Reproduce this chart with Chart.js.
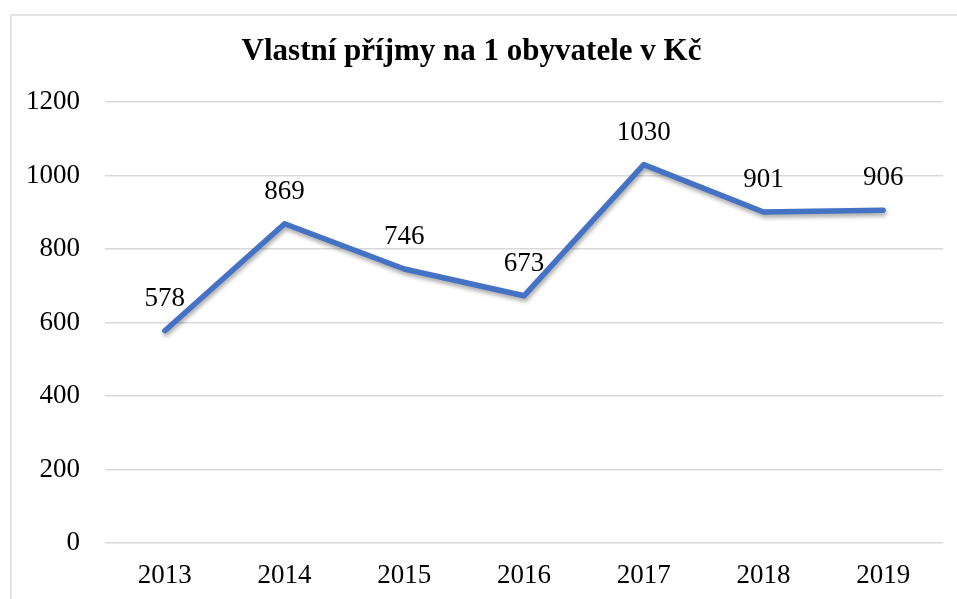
<!DOCTYPE html>
<html>
<head>
<meta charset="utf-8">
<script src="https://cdn.jsdelivr.net/npm/chart.js@4"></script>
<style>
html,body{margin:0;padding:0;background:#fff;overflow:hidden;}
#wrap{position:relative;width:957px;height:599px;}
#frame{position:absolute;left:10px;top:14px;width:1000px;height:700px;border-left:2px solid #e3e3e3;border-top:2px solid #e3e3e3;}
canvas{position:absolute;left:0;top:0;}
</style>
</head>
<body>
<div id="wrap">
<div id="frame"></div>
<canvas id="c" width="957" height="599"></canvas>
</div>
<script>
const chartTitle = "Vlastní příjmy na 1 obyvatele v Kč";
const categories = ["2013","2014","2015","2016","2017","2018","2019"];
const values = [578, 869, 746, 673, 1030, 901, 906];
const yMin = 0, yMax = 1200, yStep = 200;

const FONT = "'Liberation Serif', 'Times New Roman', serif";

const shadowPlugin = {
  id: 'lineShadow',
  beforeDatasetDraw(chart) {
    const ctx = chart.ctx;
    ctx.save();
    ctx.shadowColor = 'rgba(0,0,0,0.35)';
    ctx.shadowBlur = 4;
    ctx.shadowOffsetX = 1;
    ctx.shadowOffsetY = 3;
  },
  afterDatasetDraw(chart) {
    chart.ctx.restore();
  }
};

const labelPlugin = {
  id: 'valueLabels',
  afterDatasetsDraw(chart) {
    const ctx = chart.ctx;
    const meta = chart.getDatasetMeta(0);
    ctx.save();
    ctx.font = "27px " + FONT;
    ctx.fillStyle = '#000';
    ctx.textAlign = 'center';
    ctx.textBaseline = 'middle';
    meta.data.forEach((pt, i) => {
      ctx.fillText(String(values[i]), pt.x, pt.y - 32);
    });
    ctx.restore();
  }
};

new Chart(document.getElementById('c'), {
  type: 'line',
  data: {
    labels: categories,
    datasets: [{
      data: values,
      borderColor: '#4472C4',
      borderWidth: 5.5,
      borderCapStyle: 'round',
      borderJoinStyle: 'round',
      pointRadius: 0,
      tension: 0,
      fill: false
    }]
  },
  options: {
    responsive: false,
    animation: false,
    devicePixelRatio: 1,
    layout: { padding: { left: 0, right: 14, top: 0, bottom: 0 } },
    plugins: {
      legend: { display: false },
      tooltip: { enabled: false },
      title: {
        display: true,
        text: chartTitle,
        color: '#000',
        font: { family: FONT, size: 31, weight: 'bold', lineHeight: 1.2 },
        padding: { top: 33, bottom: 32 }
      }
    },
    scales: {
      x: {
        offset: true,
        grid: { display: false, drawTicks: false },
        border: { display: false },
        ticks: { color: '#000', font: { family: FONT, size: 27 }, padding: 17 },
        afterFit(s) { s.height = 56; }
      },
      y: {
        min: yMin, max: yMax,
        grid: { color: '#d9d9d9', lineWidth: 1.5, drawTicks: false },
        border: { display: false },
        ticks: {
          stepSize: yStep, color: '#000', font: { family: FONT, size: 27 }, padding: 25,
          callback: (v) => String(v)
        },
        afterFit(s) { s.width = 105; }
      }
    }
  },
  plugins: [shadowPlugin, labelPlugin]
});
</script>
</body>
</html>
